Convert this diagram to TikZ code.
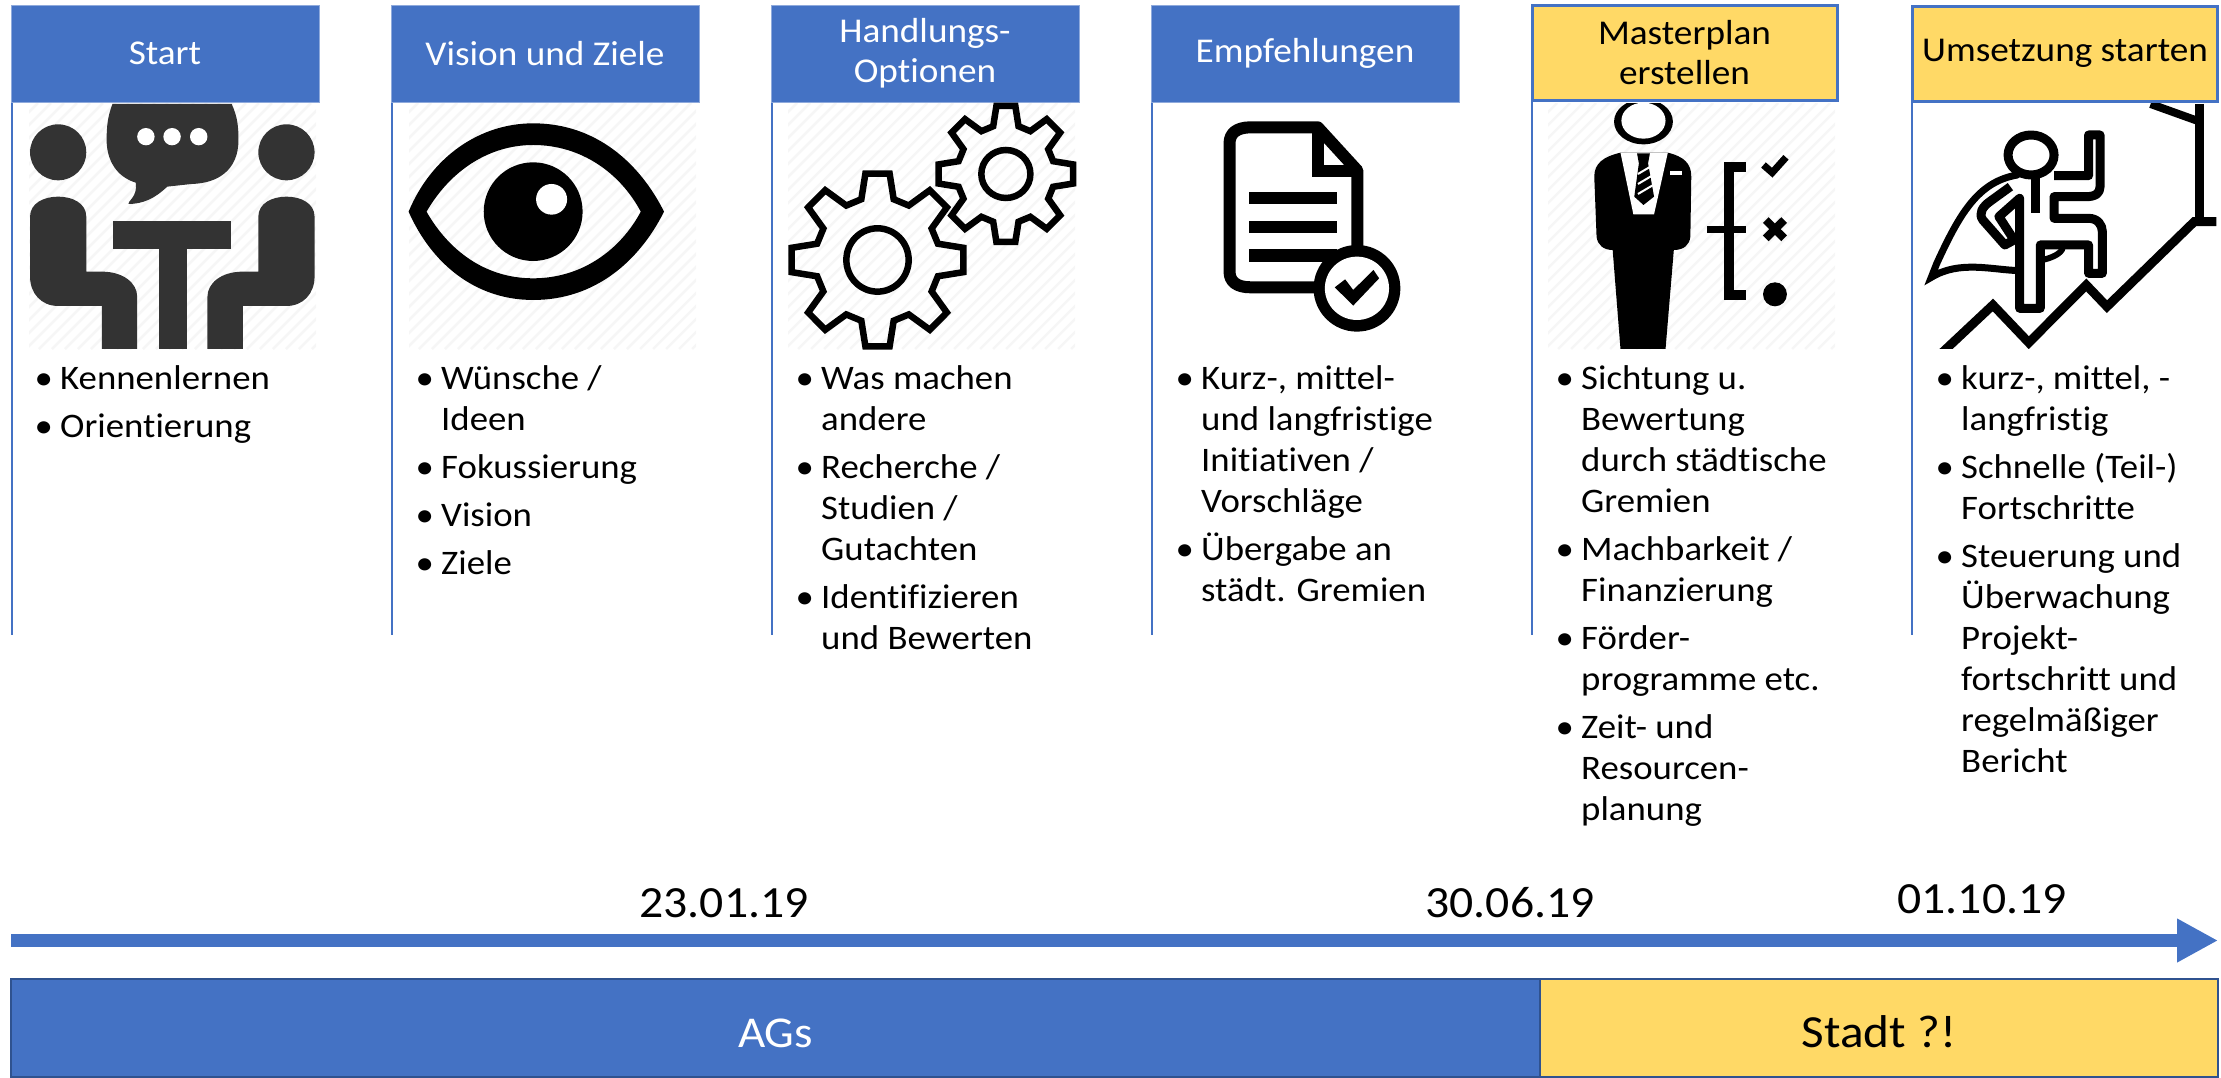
\documentclass[tikz,border=0pt]{standalone}
\usepackage{fontspec}
\setmainfont[FakeStretch=1.07,Ligatures=NoCommon]{Carlito}
\usetikzlibrary{arrows.meta}
\definecolor{bl}{HTML}{4472C4}
\definecolor{yl}{HTML}{FFD966}
\definecolor{dk}{HTML}{2F528F}
\definecolor{ic}{HTML}{333333}
\definecolor{ht}{HTML}{F6F6F6}
\newcommand\bl{\makebox[23pt][l]{\hspace*{-2.5pt}•}}
\newcommand\ind{\hspace*{23pt}}
\newcommand\hatchbox[2]{%
  \begin{scope}
  \clip (#1,103) rectangle (#2,349);
  \foreach \i in {0,13,...,560} {\draw[ht,line width=2.5pt] ({#1-250+\i},349) -- ({#1-250+\i+246},103);}
  \end{scope}}
\newcommand\gearicon[6]{%
  \draw[line width=6.5pt,line join=miter] ({#1+#3*cos(-8)},{#2+#4*sin(-8)})
   \foreach \k in {0,45,...,315} {
     -- ({#1+#3*cos(\k+8)},{#2+#4*sin(\k+8)})
     -- ({#1+.72*#3*cos(\k+15)},{#2+.72*#4*sin(\k+15)})
     -- ({#1+.72*#3*cos(\k+30)},{#2+.72*#4*sin(\k+30)})
     -- ({#1+#3*cos(\k+37)},{#2+#4*sin(\k+37)})
   } -- cycle;
  \draw[line width=6.5pt] (#1,#2) ellipse [x radius=#5,y radius=#6];}
\tikzset{
  head/.style={draw=#1!60!white,line width=1pt,fill=bl,text=white,minimum width=308pt,minimum height=97pt,inner sep=0pt,align=center,font=\fontsize{34.8}{40}\selectfont},
  head/.default=bl,
  yhead/.style={draw=bl,line width=3pt,fill=yl,text=black,minimum width=305pt,minimum height=95pt,inner sep=0pt,align=center,font=\fontsize{34.8}{40}\selectfont},
  rail/.style={bl,line width=2pt},
  body/.style={anchor=north west,inner sep=0pt,align=left,font=\fontsize{34.4}{41}\selectfont},
  date/.style={inner sep=0pt,font=\fontsize{44.6}{50}\selectfont},
  barb/.style={draw=dk,line width=2pt,fill=bl,text=white,minimum height=98pt,inner sep=0pt,font=\fontsize{44}{50}\selectfont},
  bary/.style={draw=dk,line width=2pt,fill=yl,text=black,minimum height=98pt,inner sep=0pt,font=\fontsize{46}{50}\selectfont},
}
\begin{document}
\begin{tikzpicture}[x=1pt,y=-1pt]
\useasboundingbox (0,0) rectangle (2221,1077);
% hatched picture backgrounds
\hatchbox{29}{316}
\hatchbox{409}{696}
\hatchbox{788}{1075}
\hatchbox{1548}{1835}
% rails
\foreach \n/\x in {r1/12,r2/392,r3/772,r4/1152,r5/1532,r6/1912} {
  \coordinate (\n a) at (\x,102);
  \coordinate (\n b) at (\x,635);
  \draw[rail] (\n a) -- (\n b);
}
% headers
\node[head] (h1) at (165,53.5) {Start};
\node[head] (h2) at (545,53.5) {Vision und Ziele};
\node[head] (h3) at (925,53.5) {Handlungs-\\Optionen};
\node[head] (h4) at (1305,53.5) {Empfehlungen};
\node[yhead] (h5) at (1684.5,53) {Masterplan\\erstellen};
\node[yhead] (h6) at (2065,53.5) {Umsetzung starten};
% icon 1
\begin{scope}[shift={(0,0)},x=.4847pt,y=-.3333pt]
 \fill[ic] (120,457) ellipse [x radius=58,y radius=84];
 \fill[ic] (591,457) ellipse [x radius=58,y radius=84];
 \fill[ic] (232,312) -- (478,312) .. controls (490,350) and (492,380) .. (492,420) .. controls (492,510) and (450,550) .. (395,552) -- (345,560) .. controls (320,595) and (295,612) .. (265,612) .. controls (262,605) and (285,590) .. (280,548) .. controls (240,530) and (220,480) .. (220,420) .. controls (220,380) and (222,350) .. (232,312) -- cycle;
 \foreach \x in {301,355,410} \fill[white] (\x,410) ellipse [x radius=18,y radius=26];
 \fill[ic] (234,662) rectangle (477,746);
 \fill[ic] (328,746) rectangle (385,1047);
 \fill[ic] (62,830) -- (62,650) .. controls (62,610) and (90,590) .. (120,590) .. controls (150,590) and (178,610) .. (178,650) -- (178,815) -- (210,815) .. controls (255,815) and (283,850) .. (283,890) -- (283,1047) -- (210,1047) -- (210,918) -- (120,918) .. controls (85,918) and (62,880) .. (62,830) -- cycle;
 \fill[ic] (649,830) -- (649,650) .. controls (649,610) and (621,590) .. (591,590) .. controls (561,590) and (533,610) .. (533,650) -- (533,815) -- (501,815) .. controls (456,815) and (428,850) .. (428,890) -- (428,1047) -- (501,1047) -- (501,918) -- (591,918) .. controls (626,918) and (649,880) .. (649,830) -- cycle;
% icon 2
 \fill[black,even odd rule] (843,635) .. controls (890,470) and (990,370) .. (1100,370) .. controls (1230,370) and (1320,490) .. (1370,635) .. controls (1320,780) and (1230,900) .. (1100,900) .. controls (980,900) and (890,790) .. (843,635) -- cycle
  (880,635) .. controls (930,510) and (1010,435) .. (1100,435) .. controls (1200,435) and (1280,520) .. (1322,635) .. controls (1280,750) and (1200,835) .. (1100,835) .. controls (1000,835) and (925,750) .. (880,635) -- cycle;
 \fill[black] (1100,635) ellipse [x radius=102,y radius=148];
 \fill[white] (1138,598) ellipse [x radius=32,y radius=46];
\end{scope}
% icons 3 and 4
\begin{scope}[shift={(760,0)},x=.4719pt,y=-.3333pt]
 \gearicon{249}{780}{184}{262}{66}{95}
 \gearicon{521}{522}{144}{206}{52}{72}
 % document
 \draw[line width=12pt,line join=round] (1266,745) -- (1266,512) -- (1182,382) -- (1040,382) .. controls (1010,382) and (995,400) .. (995,430) -- (995,815) .. controls (995,845) and (1010,862) .. (1040,862) -- (1190,862);
 \draw[line width=12pt,line join=miter] (1182,382) -- (1182,514) -- (1266,514);
 \fill[black] (1037,575) rectangle (1222,611);
 \fill[black] (1037,662) rectangle (1222,698);
 \fill[black] (1037,748) rectangle (1222,785);
 \fill[black] (1265,865) ellipse [x radius=92,y radius=130];
 \fill[white] (1265,865) ellipse [x radius=68,y radius=95];
 \fill[black] (1218,862) -- (1240,838) -- (1257,870) -- (1300,810) -- (1312,835) -- (1257,917) -- cycle;
\end{scope}
% icons 5 and 6
\begin{scope}[shift={(1500,0)},x=.4598pt,y=-.3333pt]
 \begin{scope}
  \clip (100,312) rectangle (730,1047);
  \fill[black] (312,365) ellipse [x radius=64,y radius=68];
  \fill[white,draw=none] (312,362) ellipse [x radius=48,y radius=54];
  \fill[black] (262,458) .. controls (225,470) and (205,490) .. (205,530) -- (210,710) .. controls (212,735) and (225,750) .. (245,750) -- (262,1047) -- (360,1047) -- (378,750) .. controls (400,750) and (412,735) .. (414,710) -- (416,530) .. controls (416,490) and (400,470) .. (365,458) -- cycle;
  \fill[white] (262,458) -- (290,643) -- (335,643) -- (365,458) -- cycle;
  \fill[black] (298,460) -- (326,460) -- (322,490) -- (335,590) -- (312,615) -- (292,590) -- (302,490) -- cycle;
  \foreach \d in {510,540,570} \draw[white,line width=2pt] (300,\d+12) -- (332,\d-14);
  \fill[white] (370,513) rectangle (395,525);
  \draw[line width=10pt,line join=miter] (535,501) -- (497,501) -- (497,884) -- (535,884);
  \fill[black] (450,677) rectangle (535,700);
  \draw[line width=7pt] (573,495) -- (592,518) -- (622,472);
  \draw[line width=8pt] (578,660) -- (618,715) (618,660) -- (578,715);
  \fill[black] (598,883) ellipse [x radius=26,y radius=36];
 \end{scope}
 \begin{scope}
  \clip (900,312) rectangle (1565,1047);
  \draw[line width=9pt,line join=round] (1155,465) ellipse [x radius=50,y radius=60];
  \draw[line width=9pt,line join=round] (1205,527) -- (1280,527) -- (1280,405) -- (1305,405) -- (1305,560) .. controls (1305,580) and (1295,590) .. (1275,590) -- (1205,590) -- (1205,655) -- (1280,655) .. controls (1300,655) and (1310,675) .. (1310,695) -- (1310,820) -- (1280,820) -- (1280,735) -- (1175,735) -- (1175,925) -- (1130,925) -- (1130,595) -- (1085,650) -- (1118,720) -- (1098,735) -- (1050,660) .. controls (1040,640) and (1050,620) .. (1065,605) -- (1110,560);
  \draw[line width=9pt] (1165,530) -- (1165,640);
  \draw[line width=7pt,line cap=round] (1125,525) .. controls (1040,545) and (1000,640) .. (950,790) -- (938,832) .. controls (1000,780) and (1070,810) .. (1130,812);
  \draw[line width=6pt] (1180,780) .. controls (1210,770) and (1225,755) .. (1225,735);
  \draw[line width=9pt,line join=miter] (960,1060) -- (1072,915) -- (1150,1028) -- (1275,855) -- (1320,920) -- (1510,665) -- (1558,665);
  \draw[line width=9pt] (1522,312) -- (1522,665);
  \draw[line width=8pt] (1415,312) -- (1522,365);
 \end{scope}
\end{scope}
% body text
\node[body] (t1) at (37,365.5) {\bl Kennenlernen\\[7pt]\bl Orientierung};
\node[body] (t2) at (418,365.5) {\bl Wünsche /\\\ind Ideen\\[7pt]\bl Fokussierung\\[7pt]\bl Vision\\[7pt]\bl Ziele};
\node[body] (t3) at (798,365.5) {\bl Was machen\\\ind andere\\[7pt]\bl Recherche /\\\ind Studien /\\\ind Gutachten\\[7pt]\bl Identifizieren\\\ind und Bewerten};
\node[body] (t4) at (1178,365.5) {\bl Kurz-, mittel-\\\ind und langfristige\\\ind Initiativen /\\\ind Vorschläge\\[7pt]\bl Übergabe an\\\ind städt. Gremien};
\node[body] (t5) at (1558,365.5) {\bl Sichtung u.\\\ind Bewertung\\\ind durch städtische\\\ind Gremien\\[7pt]\bl Machbarkeit /\\\ind Finanzierung\\[7pt]\bl Förder-\\\ind programme etc.\\[7pt]\bl Zeit- und\\\ind Resourcen-\\\ind planung};
\node[body] (t6) at (1938,365.5) {\bl kurz-, mittel, -\\\ind langfristig\\[7pt]\bl Schnelle (Teil-)\\\ind Fortschritte\\[7pt]\bl Steuerung und\\\ind Überwachung\\\ind Projekt-\\\ind fortschritt und\\\ind regelmäßiger\\\ind Bericht};
% dates
\node[date] (d1) at (724,903) {23.01.19};
\node[date] (d2) at (1510,903) {30.06.19};
\node[date] (d3) at (1982,899) {01.10.19};
% timeline
\coordinate (as) at (11,940.5);
\coordinate (ae) at (2218,940.5);
\draw[bl,line width=13pt,-{Triangle[length=41pt,width=41pt]}] (as) -- (ae);
% bars
\node[barb,minimum width=1529pt] (ag) at (775.5,1028) {\raisebox{-19pt}[0pt][0pt]{AGs}};
\node[bary,minimum width=678pt] (st) at (1879,1028) {\raisebox{-19pt}[0pt][0pt]{Stadt ?!}};
\end{tikzpicture}
\end{document}
